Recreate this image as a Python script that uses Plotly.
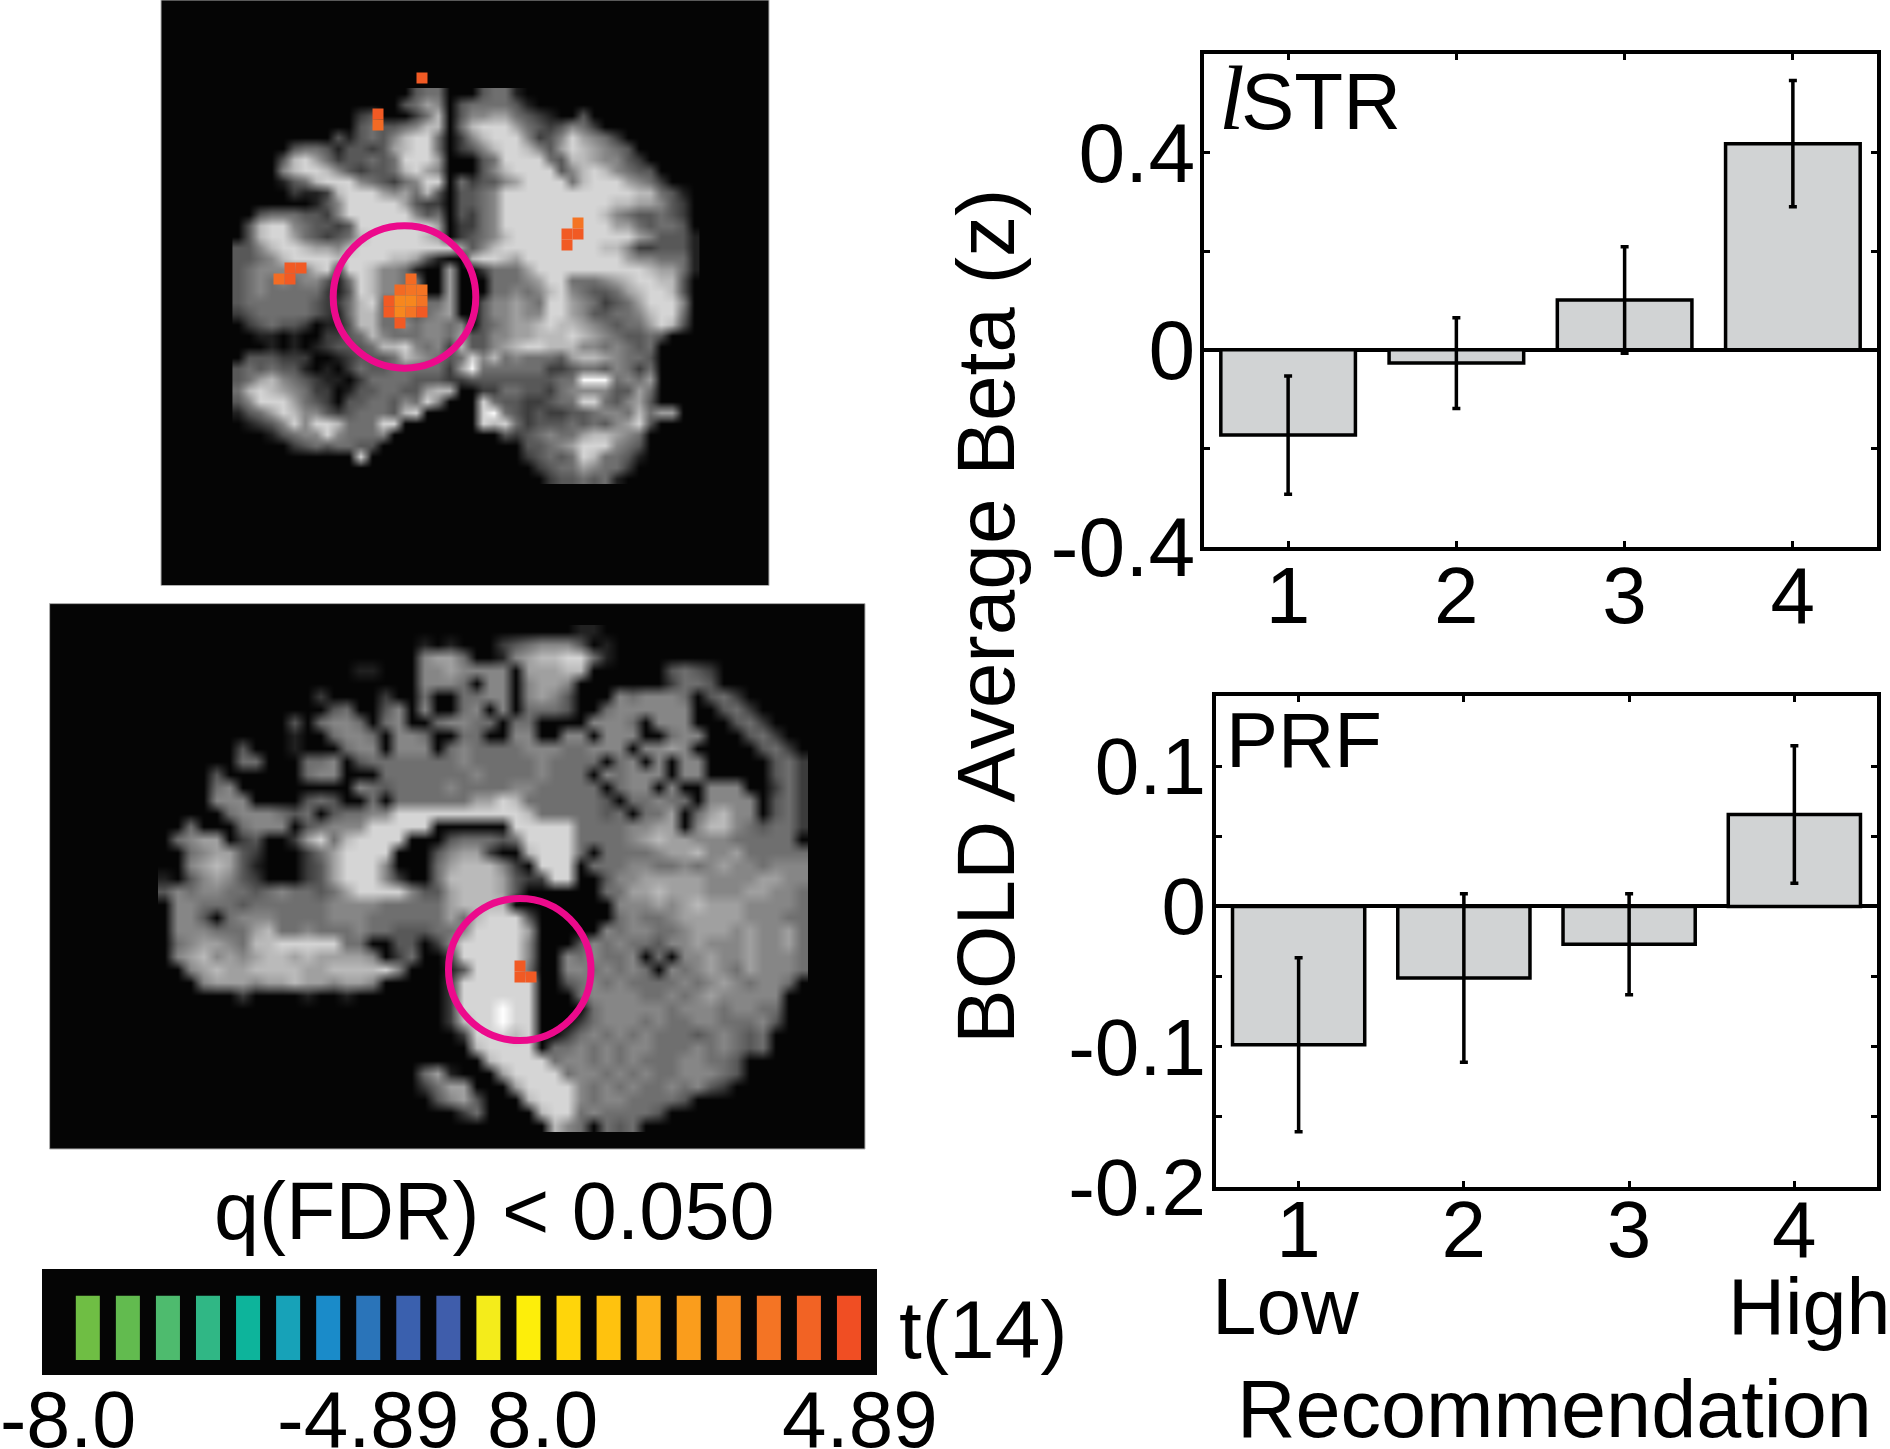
""" Brain slices with activation, colour key and two ROI bar panels, written to out.html """

import plotly.graph_objects as go

W, H = 1890, 1449
FONT = "Liberation Sans"

conditions = [1, 2, 3, 4]
lstr_beta = [-0.173, -0.027, 0.101, 0.418]
lstr_err = [0.120, 0.092, 0.108, 0.128]
prf_beta = [-0.0986, -0.051, -0.027, 0.0656]
prf_err = [0.062, 0.060, 0.036, 0.049]

lstr_ticks = [-0.4, -0.2, 0, 0.2, 0.4]
lstr_ticktext = ["-0.4", "", "0", "", "0.4"]
prf_ticks = [-0.2, -0.15, -0.1, -0.05, 0, 0.05, 0.1]
prf_ticktext = ["-0.2", "", "-0.1", "", "0", "", "0.1"]

key_colors = ["#6fbe44", "#62bb4f", "#4ebb6e", "#30b785", "#0db49b", "#17a2b8", "#1a8bc9",
              "#2a74b9", "#3a60ae", "#3f5dab", "#f4ec1b", "#fdee0a", "#ffd50a", "#ffc20e",
              "#fdb01a", "#fa9d1c", "#f78a21", "#f47424", "#f26324", "#f04e23"]

coronal_rows = [
    "0000000000 0000003440 0034410000 0000000000 00",
    "0000000000 0000034650 3444431000 0000000000 00",
    "0000000000 0230002470 3556643210 0300000000 00",
    "0000000000 0343345770 4788864323 5420000000 00",
    "0000000003 1343578840 2578885235 8654200000 00",
    "0000034431 3323678840 2357887536 8765430000 00",
    "0000378642 3343488860 0034888843 7765532000 00",
    "0000578875 3233478650 0035788883 5787543300 00",
    "0000134788 8543245880 4233568888 4788865420 00",
    "0000021127 8886564730 3345888888 8888887743 10",
    "0000000135 8888863220 3345888888 8888776653 20",
    "0034443325 8888885340 3245888888 8887543343 20",
    "0378854332 3888888860 2245888888 8888664344 30",
    "0378864323 4788888760 2345788888 8888886533 31",
    "3357887665 7888888888 6357888888 8887752233 31",
    "3345788887 8888776310 0788768888 8888865544 41",
    "3455555782 8875541006 0024446888 8888888766 41",
    "3454545531 4875544006 0004445688 4445678877 30",
    "3454444421 3875544006 0004454578 5433467887 30",
    "3444444322 4784454446 0035565488 6542346888 50",
    "2344444321 4774443456 0035565588 6533445788 40",
    "0234332011 3774454554 5034566787 7654344687 30",
    "0011010022 3475444554 6335566777 8765433430 00",
    "0001010123 3347785452 7335678877 7554543400 00",
    "0333222001 2333476543 4857454443 6776544300 00",
    "3434331010 2433444442 6944444422 3443542400 00",
    "3467543211 0244443332 2333333334 4999454600 00",
    "4787654220 1334433677 0022443324 5555336400 00",
    "3588864320 3344354850 0084332234 4884356300 00",
    "1346875532 3444378000 0089432322 3345547466 00",
    "0123585887 4448800000 0087842333 4343568300 00",
    "0001345585 4445000000 0000323454 4677654000 00",
    "0000023434 4330000000 0000003345 6888543000 00",
    "0000000000 0800000000 0000002343 4874431000 00",
    "0000000000 0000000000 0000000234 4654420000 00",
    "0000000000 0000000000 0000000023 3434100000 00",
]

# grey levels 0-9
sagittal_rows = [
    "0000000000 0000000000 0000000000 0011000000 0000000000",
    "0000000000 0000000000 1010002345 5530100000 0000000000",
    "0000000000 0000000000 5664001567 7884100000 0000000000",
    "0000000000 0000011000 5565555066 6770000003 4320000000",
    "0000000000 0000000000 5554055056 6500000002 4430000000",
    "0000000000 0020000200 4004455056 5300054555 4034200000",
    "0000000000 0003400350 5004505044 4300455555 5003420000",
    "0000000000 3045540450 0455440440 0005554055 5000342000",
    "0000000000 1004554055 4004400550 0550555004 5500034200",
    "0000003000 1000455055 5045444455 5445550556 5000003420",
    "0000004400 0445034444 4445444445 4444045050 5500000342",
    "0000300000 0455000444 4444544445 4440545550 5500000342",
    "0000450000 0000054344 4454444554 4444045505 0055500242",
    "0000555000 0343004044 4444668744 4444304454 4055550342",
    "0000045554 3403445588 8888888874 4444340446 0467550342",
    "0040004555 0345558888 8000000888 8844445566 0577543442",
    "0456602300 2684788880 0034443488 8844445676 6555444440",
    "0045663200 0246888800 0356620078 8840444456 6755644444",
    "0056763100 0236888500 0467775208 8804445544 5456554555",
    "1035653200 0236888520 0477776322 8800355666 6655556655",
    "3545544345 4434688885 3367776300 0000446676 6655566554",
    "0554443444 4445555444 4467777000 0000055565 6766655554",
    "0553045554 4445554444 4464788830 0000045445 6666655544",
    "0555444674 4544454433 3445888860 0000545544 5666565564",
    "0456654778 8888440033 0258888850 0035454435 5655565564",
    "0567565677 6766665024 0028888850 0545445040 5565565554",
    "0056766777 7667777850 0013888840 0554545405 4565465554",
    "0005666566 7665665000 0028888880 0345454444 5456545540",
    "0000002000 0100100000 0028888880 0045555445 4565555500",
    "0000000000 0000000000 0028889880 0004555554 5554554400",
    "0000000000 0000000000 0027889880 0024555454 4554445300",
    "0000000000 0000000000 0002888780 0245454544 4345434000",
    "0000000000 0000000000 0000788880 4454545544 4545434000",
    "0000000000 0000000000 0000078888 4554545444 5544300000",
    "0000000000 0000000000 4610006888 8455454544 5554300000",
    "0000000000 0000000000 2466000688 8854545445 4532000000",
    "0000000000 0000000000 0356300078 8854554444 3000000000",
    "0000000000 0000000000 0002400007 8845444430 0000000000",
    "0000000000 0000000000 0000000000 7540434000 0000000000",
]

# activation voxels, in reference page pixels
coronal_vox_x = [422, 378, 378, 578, 578, 567, 567, 290, 301, 279, 290,
                 411, 400, 411, 422, 389, 400, 411, 422, 389, 400, 411, 422, 400]
coronal_vox_y = [78, 114, 125, 223, 234, 234, 245, 268, 268, 279, 279,
                 279, 290, 290, 290, 301, 301, 301, 301, 312, 312, 312, 312, 323]
coronal_vox_c = ["#f15a24", "#f15a24", "#f26a24", "#f47424", "#f15a24", "#f15a24", "#f15a24",
                 "#f15a24", "#f15a24", "#f36c24", "#f15a24", "#f26a24", "#f26a24", "#f47424",
                 "#f47424", "#f15a24", "#f7871e", "#f7871e", "#f47424", "#f15a24", "#f7871e",
                 "#f47424", "#f15a24", "#f15a24"]
sagittal_vox_x = [520, 520, 531]
sagittal_vox_y = [966, 977, 977]

grey_scale = [[0, "#050505"], [0.33, "#575757"], [0.55, "#858585"], [0.88, "#d2d2d2"], [1, "#ffffff"]]


def grid_values(rows):
    return [[int(c) for c in r.replace(" ", "")] for r in rows]


def px_x(x):
    return x / W


def px_y(y):
    return 1 - y / H


def label(text, x, baseline, size, anchor="left", family=FONT, italic=False):
    # y given as text baseline in page pixels
    return dict(text=text, x=px_x(x), y=px_y(baseline + 0.212 * size), xref="paper", yref="paper",
                xanchor=anchor, yanchor="bottom", showarrow=False, borderpad=0, borderwidth=0,
                font=dict(family=family, size=size, color="black", style="italic" if italic else "normal"))


def bar_trace(values, errors, axis):
    return go.Bar(x=conditions, y=values, width=0.8, xaxis="x" + axis, yaxis="y" + axis,
                  marker=dict(color="#d1d3d4", line=dict(color="black", width=3.5)),
                  error_y=dict(type="data", array=errors, color="black", thickness=3.5, width=4))


def tick_font(size):
    return dict(family=FONT, size=size, color="black")


fig = go.Figure()
fig.add_trace(bar_trace(lstr_beta, lstr_err, ""))
fig.add_trace(bar_trace(prf_beta, prf_err, "2"))

fig.add_trace(go.Heatmap(z=grid_values(coronal_rows), x0=238, dx=11.13, y0=93.5, dy=11, xaxis="x3", yaxis="y3",
                         zmin=0, zmax=9, colorscale=grey_scale, showscale=False, zsmooth="best"))
fig.add_trace(go.Scatter(x=coronal_vox_x, y=coronal_vox_y, mode="markers", xaxis="x3", yaxis="y3",
                         marker=dict(symbol="square", size=11, color=coronal_vox_c)))

fig.add_trace(go.Heatmap(z=grid_values(sagittal_rows), x0=164.5, dx=13, y0=631.5, dy=13, xaxis="x4", yaxis="y4",
                         zmin=0, zmax=9, colorscale=grey_scale, showscale=False, zsmooth="best"))
fig.add_trace(go.Scatter(x=sagittal_vox_x, y=sagittal_vox_y, mode="markers", xaxis="x4", yaxis="y4",
                         marker=dict(symbol="square", size=11, color="#f15a24")))

fig.add_trace(go.Bar(x=list(range(1, len(key_colors) + 1)), y=[1] * len(key_colors), width=0.6,
                     xaxis="x5", yaxis="y5", marker=dict(color=key_colors, line=dict(width=0))))

bar_axis = dict(showline=True, linecolor="black", linewidth=4, mirror="ticks", ticks="inside",
                ticklen=6, tickwidth=3, tickcolor="black", showgrid=False, automargin=False)
hidden = dict(visible=False, showgrid=False, zeroline=False, automargin=False)

fig.update_layout(
    width=W, height=H, margin=dict(l=0, r=0, t=0, b=0), autosize=False,
    paper_bgcolor="white", plot_bgcolor="white", showlegend=False, hovermode=False,
    xaxis=dict(bar_axis, domain=[px_x(1204), px_x(1877)], range=[0.5, 4.5], tickvals=conditions, anchor="y",
               tickfont=tick_font(80), ticklabelstandoff=-24),
    yaxis=dict(bar_axis, domain=[px_y(547), px_y(54)], range=[-0.4, 0.6], tickvals=lstr_ticks,
               ticktext=lstr_ticktext, zeroline=True, zerolinecolor="black", zerolinewidth=4, anchor="x",
               tickfont=tick_font(84), ticklabelstandoff=-12),
    xaxis2=dict(bar_axis, domain=[px_x(1216), px_x(1877)], range=[0.5, 4.5], tickvals=conditions, anchor="y2",
                tickfont=tick_font(80), ticklabelstandoff=-30),
    yaxis2=dict(bar_axis, domain=[px_y(1187), px_y(696)], range=[-0.2, 0.15], tickvals=prf_ticks,
                ticktext=prf_ticktext, zeroline=True, zerolinecolor="black", zerolinewidth=4, anchor="x2",
                tickfont=tick_font(80), ticklabelstandoff=-10),
    xaxis3=dict(hidden, domain=[px_x(161), px_x(769)], range=[161, 769], anchor="y3"),
    yaxis3=dict(hidden, domain=[px_y(585.5), px_y(0)], range=[585.5, 0], anchor="x3"),
    xaxis4=dict(hidden, domain=[px_x(49.6), px_x(865)], range=[49.6, 865], anchor="y4"),
    yaxis4=dict(hidden, domain=[px_y(1149), px_y(603.6)], range=[1149, 603.6], anchor="x4"),
    xaxis5=dict(hidden, domain=[px_x(42), px_x(877)], range=[-0.1436, 20.70], anchor="y5"),
    yaxis5=dict(hidden, domain=[px_y(1375), px_y(1269)], range=[-0.233, 1.415], anchor="x5"),
    shapes=[
        dict(type="rect", xref="x3 domain", yref="y3 domain", x0=0, x1=1, y0=0, y1=1, layer="below",
             fillcolor="#050505", line=dict(color="#b0b0b0", width=1)),
        dict(type="rect", xref="x4 domain", yref="y4 domain", x0=0, x1=1, y0=0, y1=1, layer="below",
             fillcolor="#050505", line=dict(color="#b0b0b0", width=1)),
        dict(type="rect", xref="x5 domain", yref="y5 domain", x0=0, x1=1, y0=0, y1=1, layer="below",
             fillcolor="#050505", line=dict(width=0)),
        dict(type="circle", xref="x3", yref="y3", x0=333.2, x1=475.8, y0=225.8, y1=368.2,
             line=dict(color="#ec0a8c", width=7)),
        dict(type="circle", xref="x4", yref="y4", x0=448.5, x1=591, y0=898.5, y1=1040.5,
             line=dict(color="#ec0a8c", width=7)),
    ],
    annotations=[
        dict(text="BOLD Average Beta (z)", x=px_x(985), y=px_y(617), xref="paper", yref="paper",
             xanchor="center", yanchor="middle", textangle=-90, showarrow=False, borderpad=0,
             font=dict(family=FONT, size=82, color="black")),
        label("l", 1219, 129, 92, family="Liberation Serif", italic=True),
        label("STR", 1241, 129, 80),
        label("PRF", 1226, 767, 78),
        label("Low", 1212, 1334, 80),
        label("High", 1890, 1334, 79, anchor="right"),
        label("Recommendation", 1554, 1437, 81, anchor="center"),
        label("q(FDR) &lt; 0.050", 494, 1239, 81, anchor="center"),
        label("t(14)", 899, 1358, 82),
        label("-8.0", 0, 1447, 79),
        label("-4.89", 277, 1447, 80),
        label("8.0", 487, 1447, 80),
        label("4.89", 782, 1447, 80),
    ],
)

fig.write_html("out.html", config={"displayModeBar": False},
               post_script="document.body.style.margin='0';document.body.style.overflow='hidden';")
